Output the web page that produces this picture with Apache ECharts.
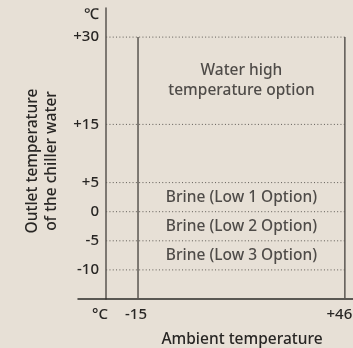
<!DOCTYPE html>
<html>
<head>
<meta charset="utf-8">
<script src="https://cdn.jsdelivr.net/npm/echarts@6/dist/echarts.min.js"></script>
<style>
  html, body { margin: 0; padding: 0; background: #e7e0d6; }
  #chart { width: 353px; height: 348px; }
</style>
</head>
<body>
<div id="chart"></div>
<script>
// Operating ranges of the chiller (ambient vs. outlet water temperature)
const ambientMin = -15;
const ambientMax = 46;
const outletLevels = [30, 15, 5, 0, -5, -10];
const yTickValues = [33.8, 30, 15, 5, 0, -5, -10];
const yTickLabels = ['℃', '+30', '+15', '+5', '0', '-5', '-10'];
const xTickValues = [-26.2, -15, 46];
const xTickLabels = ['°C', '-15', '+46'];
const regionNames = ['Water high\ntemperature option', 'Brine (Low 1 Option)', 'Brine (Low 2 Option)', 'Brine (Low 3 Option)'];
const regionCenters = [[15.5, 22.5], [15.5, 2.5], [15.5, -2.5], [15.5, -7.5]];
const yAxisAt = -24.4;

const font = 'Noto Sans';
const weight = 500;
const textColor = '#282624';
const axisColor = '#5a5651';

const chart = echarts.init(document.getElementById('chart'), null, { renderer: 'canvas' });

const series = [];
// dotted reference lines at each outlet temperature level
outletLevels.forEach(v => {
  series.push({
    type: 'line', silent: true, symbol: 'none',
    data: [[yAxisAt, v], [ambientMax, v]],
    lineStyle: { color: '#5e5a55', width: 1, type: [1, 2.3] }
  });
});
// ambient limits
[ambientMin, ambientMax].forEach(x => {
  series.push({
    type: 'line', silent: true, symbol: 'none',
    data: [[x, outletLevels[0]], [x, -15]],
    lineStyle: { color: axisColor, width: 1.5 }
  });
});
// region captions
series.push({
  type: 'scatter', silent: true, symbolSize: 0,
  data: regionCenters.map((c, i) => ({ value: c, name: regionNames[i] })),
  label: {
    show: true, position: 'inside', formatter: p => p.name,
    color: textColor, fontFamily: font, fontWeight: weight, fontSize: 15.5, lineHeight: 20
  }
});

chart.setOption({
  backgroundColor: '#e7e0d6',
  animation: false,
  grid: { left: 78, right: 0, top: 8, bottom: 49, outerBoundsMode: 'none', containLabel: false },
  xAxis: {
    type: 'value', min: -32.7, max: 48.4,
    splitLine: { show: false },
    axisLine: { show: true, onZero: false, lineStyle: { color: '#2d2b29', width: 1.5 } },
    axisTick: { show: false },
    axisLabel: {
      customValues: xTickValues,
      margin: 8,
      hideOverlap: false,
      formatter: v => {
        const i = xTickValues.indexOf(v);
        const t = i >= 0 ? xTickLabels[i] : '';
        if (v === ambientMax) return '{r|' + t + '}';
        if (v === ambientMin) return '{l|' + t + '}';
        return t;
      },
      rich: {
        r: { padding: [0, 11, 0, 0], color: textColor, fontFamily: font, fontWeight: weight, fontSize: 15 },
        l: { padding: [0, 4, 0, 0], color: textColor, fontFamily: font, fontWeight: weight, fontSize: 15 }
      },
      color: textColor, fontFamily: font, fontWeight: weight, fontSize: 15
    }
  },
  yAxis: {
    type: 'value', min: -15, max: 35, offset: -28,
    splitLine: { show: false },
    axisLine: { show: true, onZero: false, lineStyle: { color: axisColor, width: 1.5 } },
    axisTick: { show: false },
    axisLabel: {
      customValues: yTickValues,
      margin: 7,
      formatter: v => {
        const i = yTickValues.indexOf(v);
        return i >= 0 ? yTickLabels[i] : '';
      },
      color: textColor, fontFamily: font, fontWeight: weight, fontSize: 15
    }
  },
  graphic: [
    {
      type: 'text', x: 242, y: 340,
      style: { text: 'Ambient temperature', align: 'center', verticalAlign: 'middle',
               fill: textColor, font: '500 15.5px "Noto Sans"' }
    },
    {
      type: 'text', x: 42.5, y: 161, rotation: Math.PI / 2,
      style: { text: 'Outlet temperature\nof the chiller water', align: 'center', verticalAlign: 'middle',
               fill: textColor, font: '500 15.5px "Noto Sans"', lineHeight: 19 }
    }
  ],
  series: series
});
</script>
</body>
</html>
